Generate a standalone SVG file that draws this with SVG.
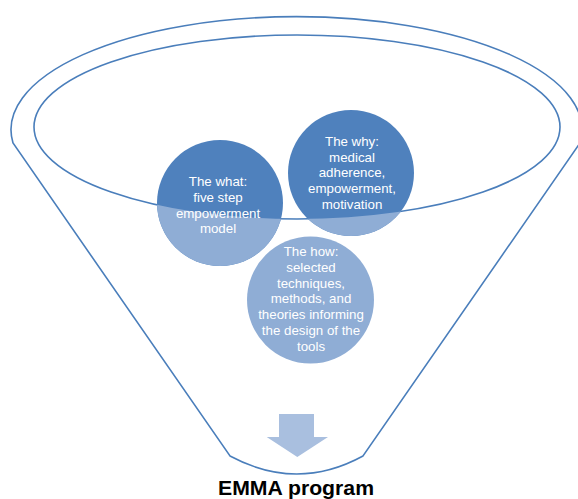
<svg xmlns="http://www.w3.org/2000/svg" width="578" height="499" viewBox="0 0 578 499">
<style>
.line{fill:none;stroke:#4A7EBB;stroke-width:1.6}
.dark{fill:#4F81BD}
.light{fill:#8FADD5}
.lbl{font-family:"Liberation Sans",Arial,sans-serif;font-size:13.3px;fill:#FFFFFF;text-anchor:middle}
.title{font-family:"Liberation Sans",Arial,sans-serif;font-size:20px;font-weight:bold;fill:#000000;text-anchor:middle}
</style>
<defs>
<clipPath id="outside">
<path clip-rule="evenodd" d="M-10,-10 H600 V520 H-10 Z M34,127 A263,92 0 1 0 560,127 A263,92 0 1 0 34,127 Z"/>
</clipPath>
</defs>
<g id="funnel">
<path class="line" d="M13,143 A285.5,113 0 1 1 580,143 L363,456 Q297,492 230,456 Z"/>
<ellipse class="line" cx="297" cy="127" rx="263" ry="92"/>
</g>
<g id="what">
<circle class="dark" cx="220" cy="203" r="63"/>
<circle class="light" cx="220" cy="203" r="63" clip-path="url(#outside)"/>
<text class="lbl" x="218" y="186">The what:</text>
<text class="lbl" x="218" y="202">five step</text>
<text class="lbl" x="218" y="217.5">empowerment</text>
<text class="lbl" x="218" y="233">model</text>
</g>
<g id="why">
<circle class="dark" cx="351" cy="173" r="63"/>
<circle class="light" cx="351" cy="173" r="63" clip-path="url(#outside)"/>
<text class="lbl" x="352" y="146">The why:</text>
<text class="lbl" x="352" y="161.7">medical</text>
<text class="lbl" x="352" y="177.3">adherence,</text>
<text class="lbl" x="352" y="193">empowerment,</text>
<text class="lbl" x="352" y="208.5">motivation</text>
</g>
<g id="how">
<circle class="light" cx="310.5" cy="300" r="63.5"/>
<text class="lbl" x="311" y="256">The how:</text>
<text class="lbl" x="311" y="271.8">selected</text>
<text class="lbl" x="311" y="287.6">techniques,</text>
<text class="lbl" x="311" y="303.4">methods, and</text>
<text class="lbl" x="311" y="319.2">theories informing</text>
<text class="lbl" x="311" y="335">the design of the</text>
<text class="lbl" x="311" y="350.8">tools</text>
</g>
<g id="arrow">
<path fill="#A9BFDF" d="M279,414 H314 V437 H328 L297.3,457 L266.7,437 H279 Z"/>
</g>
<g id="output">
<text class="title" x="296" y="495" textLength="156" lengthAdjust="spacingAndGlyphs">EMMA program</text>
</g>
</svg>
